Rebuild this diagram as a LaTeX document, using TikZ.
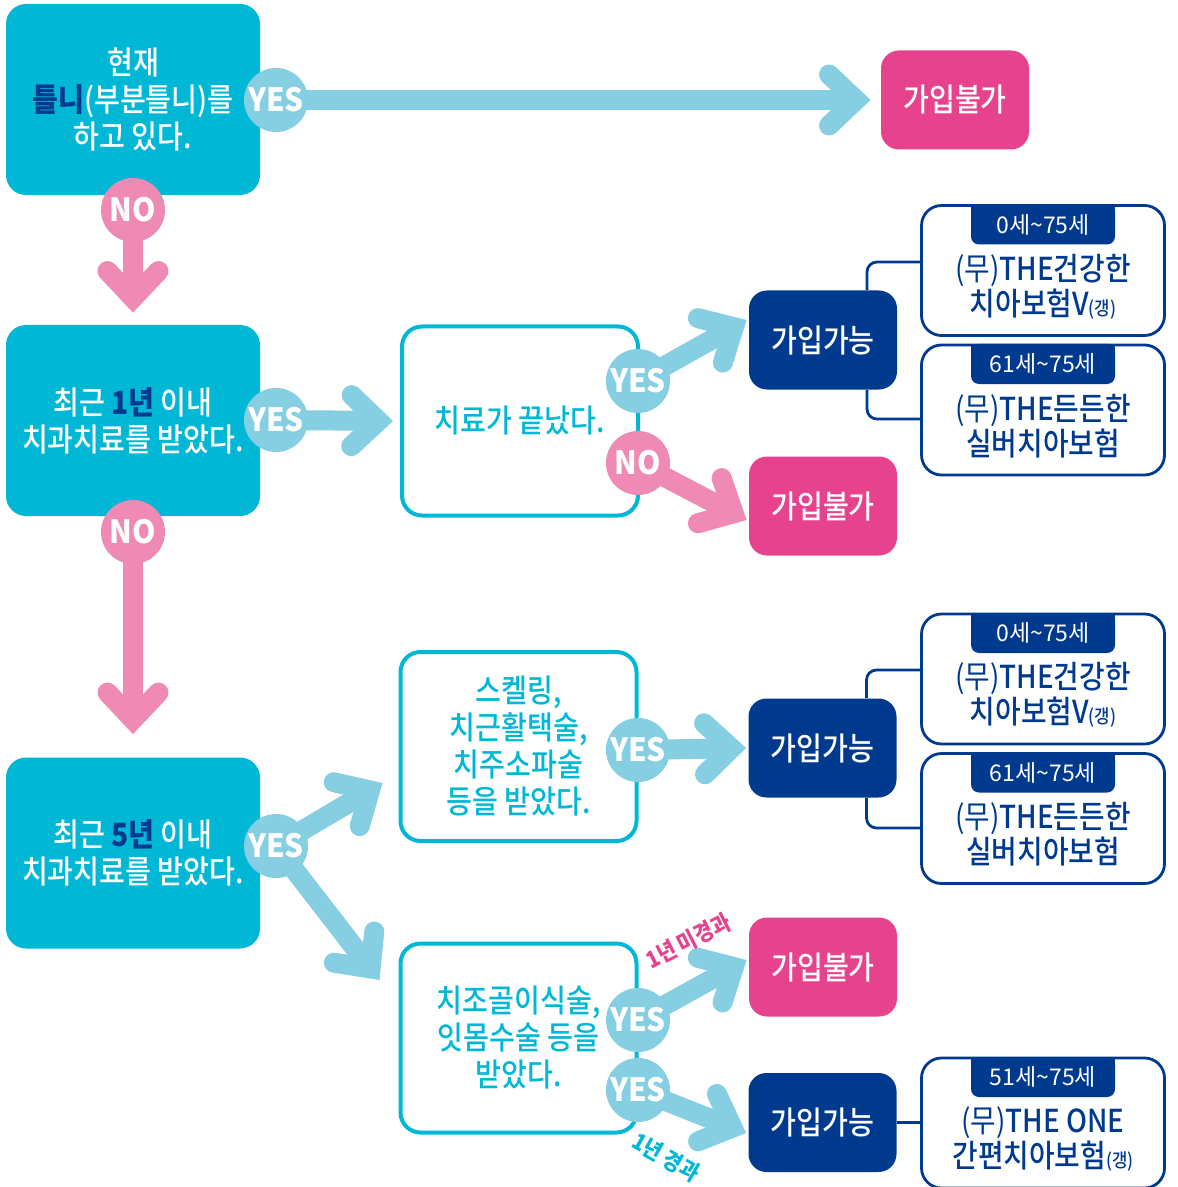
\documentclass[tikz,border=0pt]{standalone}
\usepackage{fontspec}
\setmainfont{Noto Sans CJK KR}
\newfontfamily\kr{Noto Sans CJK KR}[FakeStretch=0.88]
\newfontfamily\krmed{Noto Sans CJK KR Medium}[FakeStretch=0.88]
\newfontfamily\dotfont{Noto Sans CJK KR}[FakeStretch=0.93]
\usetikzlibrary{arrows.meta}
\definecolor{boxteal}{HTML}{00B8D6}
\definecolor{deepblue}{HTML}{003A8F}
\definecolor{hotpink}{HTML}{E6428D}
\definecolor{nopink}{HTML}{EE8AB3}
\definecolor{yesblue}{HTML}{86CEE2}
\begin{document}
\begin{tikzpicture}[x=0.5pt,y=-0.5pt,
  qbox/.style={fill=boxteal,rounded corners=10pt,minimum width=127pt,minimum height=95.5pt,inner sep=0pt,text=white,align=center,font=\krmed\fontsize{16}{18.5}\selectfont},
  cbox/.style={draw=boxteal,line width=2pt,rounded corners=10pt,minimum width=118pt,minimum height=94.5pt,inner sep=0pt,text=boxteal,align=center,font=\krmed\fontsize{16}{18.5}\selectfont},
  endbox/.style={rounded corners=9pt,minimum width=74pt,minimum height=49.5pt,inner sep=0pt,text=white,font=\krmed\fontsize{16}{16}\selectfont},
  okbox/.style={endbox,fill=deepblue},
  failbox/.style={endbox,fill=hotpink},
  answer/.style={circle,minimum size=32pt,inner sep=0pt,text=white,font=\dotfont\bfseries\fontsize{16}{16}\selectfont},
  yesdot/.style={answer,fill=yesblue},
  nodot/.style={answer,fill=nopink},
  yesarrow/.style={draw=yesblue,line width=10pt,shorten <=-1.5pt,-{Straight Barb[length=13.5pt,width=25.5pt,line cap=round,line join=miter]}},
  noarrow/.style={yesarrow,draw=nopink},
  prodbox/.style={draw=deepblue,line width=1.4pt,rounded corners=10pt,minimum width=121.5pt,minimum height=65pt,inner sep=0pt},
  agetab/.style={label={[fill=deepblue,minimum width=72pt,minimum height=10pt,inner sep=0pt,anchor=north]north:{}},
    label={[fill=deepblue,rounded corners=4pt,minimum width=72pt,minimum height=20pt,inner sep=0pt,text=white,font=\fontsize{11.5}{11.5}\selectfont,anchor=north]north:{#1}}},
  prodtext/.style={label={[text=deepblue,align=center,font=\krmed\fontsize{15.8}{17.5}\selectfont,yshift=-8pt]center:{#1}}},
  link/.style={draw=deepblue,line width=1.4pt,rounded corners=5pt},
  note/.style={font=\kr\bfseries\fontsize{11.5}{11.5}\selectfont}
]
\useasboundingbox (0,0) rectangle (1177,1187);

\node[qbox] (qA) at (133,99.5) {현재\\{\color{deepblue}\bfseries 틀니}(부분틀니)를\\하고 있다.};
\node[qbox] (qB) at (133,420.5) {최근 {\color{deepblue}\bfseries 1년} 이내\\치과치료를 받았다.};
\node[qbox] (qD) at (133,853) {최근 {\color{deepblue}\bfseries 5년} 이내\\치과치료를 받았다.};

\node[cbox] (cC) at (520,421) {치료가 끝났다.};
\node[cbox] (cE) at (518.5,746.5) {스켈링,\\치근활택술,\\치주소파술\\등을 받았다.};
\node[cbox] (cF) at (518.5,1038) {치조골이식술,\\잇몸수술 등을\\받았다.};

\node[failbox] (fA) at (955,100) {가입불가};
\node[okbox] (okA) at (823,340) {가입가능};
\node[failbox] (fB) at (823,506) {가입불가};
\node[okbox] (okB) at (822.5,748) {가입가능};
\node[failbox] (fC) at (823,967) {가입불가};
\node[okbox] (okC) at (822.5,1122.5) {가입가능};

\node[prodbox,agetab=0세\textasciitilde75세,prodtext={{\kr(무)}THE건강한\\치아보험V{\fontsize{9.5}{9.5}\selectfont(갱)}}] (p1) at (1043,270.5) {};
\node[prodbox,agetab=61세\textasciitilde75세,prodtext={{\kr(무)}THE든든한\\실버치아보험}] (p2) at (1043,410) {};
\node[prodbox,agetab=0세\textasciitilde75세,prodtext={{\kr(무)}THE건강한\\치아보험V{\fontsize{9.5}{9.5}\selectfont(갱)}}] (p3) at (1043,679) {};
\node[prodbox,agetab=61세\textasciitilde75세,prodtext={{\kr(무)}THE든든한\\실버치아보험}] (p4) at (1043,818.5) {};
\node[prodbox,agetab=51세\textasciitilde75세,prodtext={{\kr(무)}THE ONE\\간편치아보험{\fontsize{9.5}{9.5}\selectfont(갱)}}] (p5) at (1043,1123) {};

\draw[link] ([xshift=22pt]okA.north) |- ([yshift=4.25pt]p1.west);
\draw[link] ([xshift=22pt]okA.south) |- ([yshift=-4.5pt]p2.west);
\draw[link] ([xshift=22pt]okB.north) |- ([yshift=4.5pt]p3.west);
\draw[link] ([xshift=22pt]okB.south) |- ([yshift=-4.75pt]p4.west);
\draw[link] (okC.east) -- (okC.east -| p5.west);

\node[yesdot] (yA) at (276,100) {YES};
\node[nodot] (nA) at (133,210) {NO};
\node[yesdot] (yB) at (276,420) {YES};
\node[nodot] (nB) at (133,532) {NO};
\node[yesdot] (yC) at (638,381) {YES};
\node[nodot] (nC) at (638,463) {NO};
\node[yesdot] (yD) at (276,846) {YES};
\node[yesdot] (yE) at (638,750) {YES};
\node[yesdot] (yF) at (638,1020) {YES};
\node[yesdot] (yG) at (638,1090) {YES};

\draw[yesarrow] (yA) -- ([xshift=-5pt]fA.west);
\draw[noarrow] (nA) -- ([yshift=6pt]qB.north);
\draw[yesarrow] (yB) -- ([xshift=-3.5pt]cC.west);
\draw[yesarrow] (yC) -- ([shift={(-1pt,10pt)}]okA.west);
\draw[noarrow] (nC) -- ([shift={(-1pt,-7pt)}]fB.west);
\draw[noarrow] (nB) -- ([yshift=11.5pt]qD.north);
\draw[yesarrow] (yD) -- ([shift={(-8pt,-18.25pt)}]cE.west);
\draw[yesarrow] (yD) -- ([shift={(-9.5pt,29pt)}]cF.west);
\draw[yesarrow] (yE) -- ([xshift=-1pt]okB.west);
\draw[yesarrow] (yF) -- ([shift={(-1pt,3.5pt)}]fC.west);
\draw[yesarrow] (yG) -- ([shift={(-1pt,-5.25pt)}]okC.west);

\node[note,text=hotpink,rotate=27] (late) at (688,941) {1년 미경과};
\node[note,text=boxteal,rotate=-30] (past) at (666,1157) {1년 경과};
\end{tikzpicture}
\end{document}
